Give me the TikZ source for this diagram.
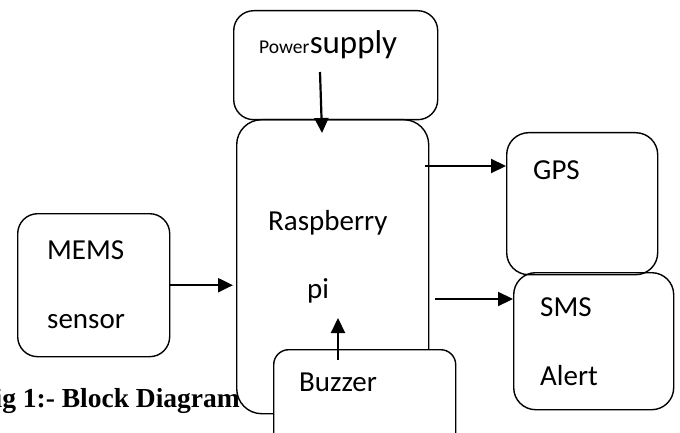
\documentclass[tikz,border=0pt]{standalone}
\usepackage{fontspec}
\setmainfont{Carlito}
\newfontfamily\capfont{Liberation Serif}
\usetikzlibrary{arrows.meta}
\begin{document}
\begin{tikzpicture}[x=1pt,y=-1pt,
  blk/.style={draw, line width=1.4pt, rounded corners=#1, inner sep=0pt, anchor=north west},
  blk/.default=20pt,
  lbl/.style={anchor=base west, inner sep=0pt, font=\fontsize{29}{31}\selectfont},
  arr/.style={line width=2.2pt, -{Triangle[length=15pt,width=14pt]}}]
\useasboundingbox (0,0) rectangle (680,433);
\clip (0,0) rectangle (680,433);
% boxes
\node[blk=25pt, minimum width=192pt, minimum height=294pt] (rpi) at (236,119) {};
\node[blk=20pt, minimum width=204pt, minimum height=109pt] (pwr) at (233,10) {};
\node[blk=20pt, minimum width=152pt, minimum height=143pt] (mems) at (17,213) {};
\node[blk=22pt, minimum width=151pt, minimum height=142pt] (gps) at (506,132) {};
\node[blk=22pt, minimum width=160pt, minimum height=137pt] (sms) at (513,272) {};
\node[blk=15pt, fill=white, minimum width=182pt, minimum height=120pt] (buz) at (273,349) {};
% labels
\node[lbl, font=\fontsize{19.5}{21}\selectfont] (pwrA) at (259,54) {Power};
\node[lbl, font=\fontsize{33}{35}\selectfont, anchor=base west] (pwrB) at (pwrA.base east) {supply};
\node[lbl] (rpiA) at (268,230) {Raspberry};
\node[lbl] (rpiB) at (307,298) {pi};
\node[lbl] (memsA) at (47,259) {MEMS};
\node[lbl] (memsB) at (47,328) {sensor};
\node[lbl] (gpsA) at (533,179) {GPS};
\node[lbl] (smsA) at (540,316) {SMS};
\node[lbl] (smsB) at (540,385) {Alert};
\node[lbl] (buzA) at (299,391) {Buzzer};
\node[anchor=base east, inner sep=0pt, font=\capfont\bfseries\fontsize{27.5}{29}\selectfont] (cap) at (240,407) {Fig 1:- Block Diagram};
% connectors
\coordinate (p0) at (320,72);
\coordinate (p1) at (322,133);
\draw[arr] (p0) -- (p1);
\draw[arr, shorten >=3pt] (mems.east) -- (mems.east -| rpi.west);
\coordinate (g0) at (425,166);
\draw[arr] (g0) -- (g0 -| gps.west);
\coordinate (s0) at (435,299);
\draw[arr] (s0) -- (s0 -| sms.west);
\coordinate (b0) at (338,360);
\coordinate (b1) at (338,318);
\draw[arr] (b0) -- (b1);
\end{tikzpicture}
\end{document}
